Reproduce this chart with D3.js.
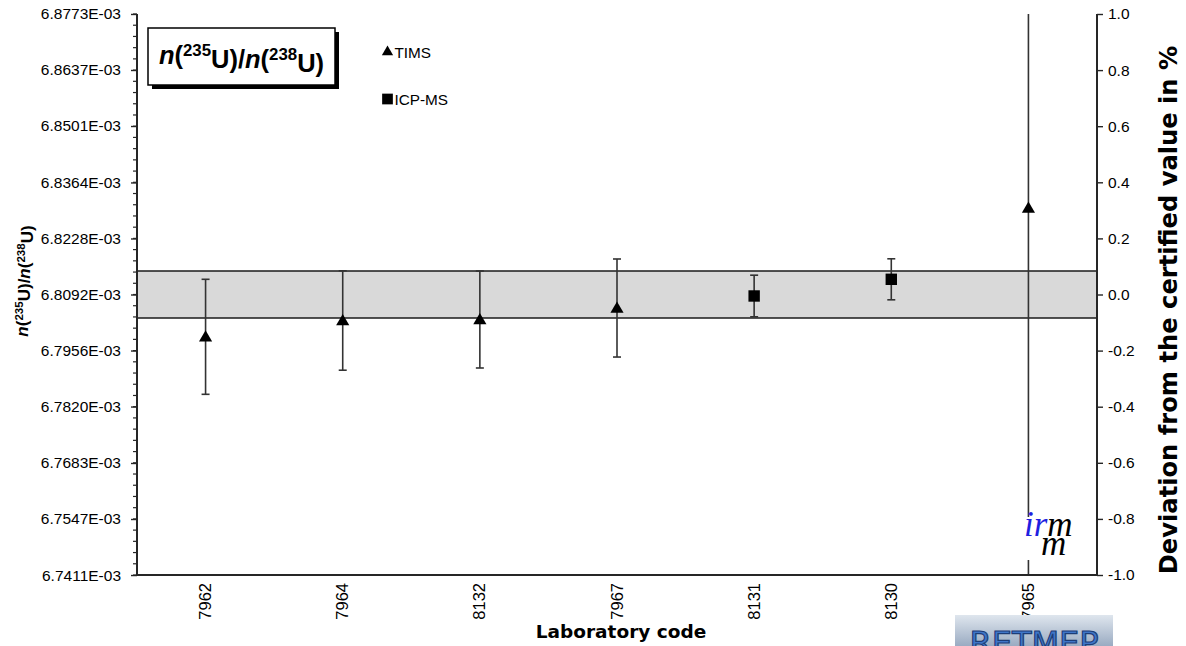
<!DOCTYPE html>
<html>
<head>
<meta charset="utf-8">
<script src="https://cdn.jsdelivr.net/npm/d3@7"></script>
<style>
  html, body { margin: 0; padding: 0; background: #fff; }
  svg { display: block; }
</style>
</head>
<body>
<script>
// ---------------- DATA ----------------
const categories = ["7962", "7964", "8132", "7967", "8131", "8130", "7965"];
const methods = ["TIMS", "TIMS", "TIMS", "TIMS", "ICP-MS", "ICP-MS", "TIMS"];
// n(235U)/n(238U) values in units of 1E-03
const ratioValues = [6.79893, 6.80289, 6.80313, 6.80592, 6.80884, 6.81289, 6.83020];
// expanded uncertainties in units of 1E-03
const ratioUncertainties = [0.01396, 0.01207, 0.01177, 0.01190, 0.00505, 0.00498, 0.11000];
const certifiedValue = 6.80920;          // 1E-03
const certifiedUncertainty = 0.00570;    // 1E-03
const leftTickLabels = ["6.7411E-03", "6.7547E-03", "6.7683E-03", "6.7820E-03", "6.7956E-03",
  "6.8092E-03", "6.8228E-03", "6.8364E-03", "6.8501E-03", "6.8637E-03", "6.8773E-03"];
const rightTickLabels = ["-1.0", "-0.8", "-0.6", "-0.4", "-0.2", "0.0", "0.2", "0.4", "0.6", "0.8", "1.0"];
const legendItems = ["TIMS", "ICP-MS"];

// ---------------- LAYOUT ----------------
const W = 1186, H = 646;
const plot = { left: 137, right: 1097, top: 14, bottom: 575 };
const axisColor = "#262626";
const sans = "Liberation Sans, Arial, sans-serif";
const verd = "DejaVu Sans, Verdana, sans-serif";

const svg = d3.select("body").append("svg").attr("width", W).attr("height", H);

const x = d3.scaleBand().domain(categories).range([plot.left, plot.right]).padding(0);
const yL = d3.scaleLinear().domain([certifiedValue * 0.99, certifiedValue * 1.01]).range([plot.bottom, plot.top]);
const yR = d3.scaleLinear().domain([-1, 1]).range([plot.bottom, plot.top]);

const defs = svg.append("defs");
defs.append("clipPath").attr("id", "plotclip")
  .append("rect").attr("x", plot.left).attr("y", plot.top)
  .attr("width", plot.right - plot.left).attr("height", plot.bottom - plot.top);

// certified band
const bandTop = yL(certifiedValue + certifiedUncertainty);
const bandBot = yL(certifiedValue - certifiedUncertainty);
svg.append("rect").attr("x", plot.left).attr("y", bandTop)
  .attr("width", plot.right - plot.left).attr("height", bandBot - bandTop)
  .attr("fill", "#d9d9d9");
[bandTop, bandBot].forEach(yy => {
  svg.append("line").attr("x1", plot.left).attr("x2", plot.right)
    .attr("y1", yy).attr("y2", yy).attr("stroke", "#1a1a1a").attr("stroke-width", 1.6);
});

// error bars
const eb = svg.append("g").attr("clip-path", "url(#plotclip)");
categories.forEach((c, i) => {
  const cx = x(c) + x.bandwidth() / 2;
  const y1 = yL(ratioValues[i] + ratioUncertainties[i]);
  const y2 = yL(ratioValues[i] - ratioUncertainties[i]);
  eb.append("line").attr("x1", cx).attr("x2", cx).attr("y1", y1).attr("y2", y2)
    .attr("stroke", "#333").attr("stroke-width", 1.6);
  [y1, y2].forEach(yy => {
    eb.append("line").attr("x1", cx - 4).attr("x2", cx + 4).attr("y1", yy).attr("y2", yy)
      .attr("stroke", "#333").attr("stroke-width", 1.6);
  });
});

// markers
const triSym = d3.symbol().type(d3.symbolTriangle).size(75);
const sqSym = d3.symbol().type(d3.symbolSquare).size(130);
categories.forEach((c, i) => {
  const cx = x(c) + x.bandwidth() / 2;
  const cy = yL(ratioValues[i]);
  svg.append("path").attr("d", methods[i] === "TIMS" ? triSym() : sqSym())
    .attr("transform", `translate(${cx},${cy + (methods[i] === "TIMS" ? 1 : 0)})`)
    .attr("fill", "#000");
});

// left axis
const gL = svg.append("g").attr("transform", `translate(${plot.left},0)`);
gL.call(d3.axisLeft(yL).tickValues(leftTickLabels.map(s => parseFloat(s) * 1000))
  .tickFormat((d, i) => leftTickLabels[i]).tickSize(6).tickPadding(10));
// minor ticks
const minor = d3.range(0, 51).map(k => -1 + k * 0.04);
gL.selectAll("line.minor").data(minor).enter().append("line").attr("class", "minor")
  .attr("x1", -4).attr("x2", 0).attr("y1", d => yR(d)).attr("y2", d => yR(d))
  .attr("stroke", axisColor).attr("stroke-width", 1.2);
gL.select(".domain").attr("d", `M0,${plot.top}V${plot.bottom}`);

// right axis
const gR = svg.append("g").attr("transform", `translate(${plot.right},0)`);
gR.call(d3.axisRight(yR).tickValues(rightTickLabels.map(Number))
  .tickFormat((d, i) => rightTickLabels[i]).tickSize(6).tickPadding(5));
gR.select(".domain").attr("d", `M0,${plot.top}V${plot.bottom}`);

[gL, gR].forEach(g => {
  g.select(".domain").attr("stroke", axisColor).attr("stroke-width", 2);
  g.selectAll(".tick line").attr("stroke", axisColor).attr("stroke-width", 1.4);
  g.selectAll(".tick text").attr("font-family", sans).attr("font-size", 15.5).attr("fill", "#000");
});

// bottom axis line
svg.append("line").attr("x1", plot.left - 1).attr("x2", plot.right + 1)
  .attr("y1", plot.bottom).attr("y2", plot.bottom).attr("stroke", axisColor).attr("stroke-width", 2);

// x labels
categories.forEach(c => {
  const cx = x(c) + x.bandwidth() / 2;
  svg.append("text").attr("transform", `translate(${cx + 5.5},${plot.bottom + 8}) rotate(-90)`)
    .attr("text-anchor", "end").attr("font-family", sans)
    .attr("font-size", 16.5).text(c);
});

// x title
svg.append("text").attr("x", 621).attr("y", 638).attr("text-anchor", "middle")
  .attr("font-family", verd).attr("font-weight", "bold")
  .attr("font-size", 18.5).text("Laboratory code");

// right title
svg.append("text").attr("transform", `translate(1177,310) rotate(-90)`)
  .attr("text-anchor", "middle").attr("font-family", verd)
  .attr("font-weight", "bold").attr("font-size", 24.2).text("Deviation from the certified value in %");

// ratio label helper
function ratioText(sel, supSize) {
  sel.append("tspan").attr("font-style", "italic").text("n");
  sel.append("tspan").text("(");
  sel.append("tspan").attr("font-size", supSize).attr("dy", "-0.45em").text("235");
  sel.append("tspan").attr("dy", "0.45em").text("U)/");
  sel.append("tspan").attr("font-style", "italic").text("n");
  sel.append("tspan").text("(");
  sel.append("tspan").attr("font-size", supSize).attr("dy", "-0.45em").text("238");
  sel.append("tspan").attr("dy", "0.45em").text("U)");
}
// left title
const lt = svg.append("text").attr("transform", `translate(28,281) rotate(-90)`)
  .attr("text-anchor", "middle").attr("font-family", sans)
  .attr("font-weight", "bold").attr("font-size", 17);
ratioText(lt, "0.68em");

// title box
svg.append("rect").attr("x", 152).attr("y", 32).attr("width", 187).attr("height", 57).attr("fill", "#000");
svg.append("rect").attr("x", 148).attr("y", 28).attr("width", 187).attr("height", 57)
  .attr("fill", "#fff").attr("stroke", "#000").attr("stroke-width", 1.5);
const tt = svg.append("text").attr("x", 241.5).attr("y", 64).attr("text-anchor", "middle")
  .attr("font-family", sans).attr("font-weight", "bold").attr("font-size", 25.5);
ratioText(tt, "0.66em");

// legend
const legY = [52, 99];
legendItems.forEach((name, i) => {
  const sym = name === "TIMS" ? d3.symbol().type(d3.symbolTriangle).size(55)() : d3.symbol().type(d3.symbolSquare).size(115)();
  svg.append("path").attr("d", sym).attr("transform", `translate(387.5,${legY[i]})`).attr("fill", "#000");
  svg.append("text").attr("x", 394.5).attr("y", legY[i] + 5.5)
    .attr("font-family", sans).attr("font-size", 15.3).text(name);
});

// irmm logo (single text element)
svg.append("rect").attr("x", 1021).attr("y", 517).attr("width", 62).attr("height", 43).attr("fill", "#fff");
const logo = svg.append("text").attr("x", 1024).attr("y", 536)
  .attr("font-family", "Liberation Serif, DejaVu Serif, serif").attr("font-style", "italic").attr("font-size", 35);
logo.append("tspan").attr("fill", "#1f1fe0").text("ir");
logo.append("tspan").attr("fill", "#000").text("m");
logo.append("tspan").attr("x", 1041).attr("y", 555).attr("fill", "#000").text("m");

// RETMEP logo
const grad = defs.append("linearGradient").attr("id", "retg").attr("x1", 0).attr("x2", 0).attr("y1", 0).attr("y2", 1);
grad.append("stop").attr("offset", "0%").attr("stop-color", "#dfe6ee");
grad.append("stop").attr("offset", "100%").attr("stop-color", "#9aabc2");
svg.append("rect").attr("x", 955).attr("y", 615).attr("width", 158).attr("height", 31).attr("fill", "url(#retg)");
svg.append("text").attr("x", 1034).attr("y", 654).attr("text-anchor", "middle")
  .attr("font-family", "DejaVu Sans, sans-serif").attr("font-size", 32)
  .attr("fill", "#3f76c8").attr("stroke", "#1c3d78").attr("stroke-width", 1.2).text("RETMEP");
</script>
</body>
</html>
